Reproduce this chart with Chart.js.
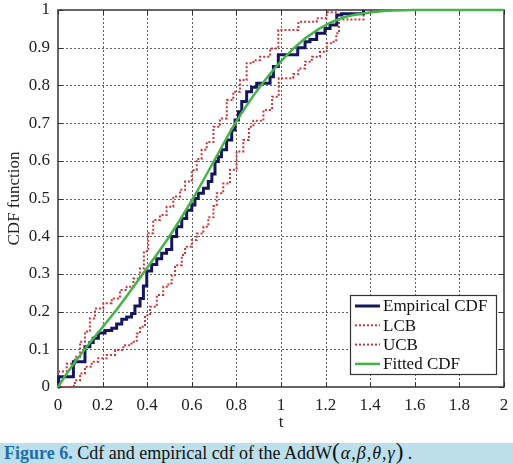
<!DOCTYPE html>
<html>
<head>
<meta charset="utf-8">
<script src="https://cdn.jsdelivr.net/npm/chart.js@4.4.1/dist/chart.umd.min.js"></script>
<style>
    body { margin: 0; background: #fff; }
    #wrap { position: relative; width: 513px; height: 443px; }
    #caption {
        width: 509px; height: 21px; line-height: 21px; padding-left: 4px;
        background: #bcdfeb; font-family: "Liberation Serif", serif; font-size: 18px; color: #111;
        white-space: nowrap;
    }
    #caption b { color: #1f6ea6; }
    #caption .par { font-size: 23px; line-height: 18px; }
    #caption i { padding: 0 1px; }
</style>
</head>
<body>
<div id="wrap"><canvas id="cdfChart" width="513" height="443"></canvas></div>
<div id="caption"><b>Figure 6.</b> Cdf and empirical cdf of the AddW<span class="par">(</span><i>α</i>,<i>β</i>,<i>θ</i>,<i>γ</i><span class="par">)</span> .</div>
<script>
// empirical cdf (jump points / value after jump)
var ecdfT = [0, 0.003, 0.069, 0.121, 0.143, 0.158, 0.181, 0.211, 0.241, 0.263, 0.286, 0.308, 0.33, 0.345, 0.368, 0.383, 0.398, 0.42, 0.443, 0.465, 0.487, 0.51, 0.532, 0.555, 0.577, 0.6, 0.614, 0.629, 0.652, 0.674, 0.69, 0.704, 0.719, 0.733, 0.756, 0.779, 0.794, 0.809, 0.824, 0.846, 0.868, 0.891, 0.951, 0.966, 0.988, 1.075, 1.108, 1.13, 1.16, 1.197, 1.22, 1.25, 1.272, 1.37];
var ecdfF = [0, 0.027, 0.067, 0.107, 0.118, 0.129, 0.143, 0.15, 0.156, 0.167, 0.18, 0.186, 0.195, 0.215, 0.235, 0.268, 0.308, 0.325, 0.34, 0.355, 0.365, 0.399, 0.425, 0.447, 0.469, 0.483, 0.5, 0.514, 0.527, 0.545, 0.565, 0.598, 0.611, 0.629, 0.655, 0.682, 0.708, 0.73, 0.757, 0.783, 0.795, 0.806, 0.823, 0.85, 0.881, 0.9, 0.916, 0.922, 0.938, 0.951, 0.96, 0.987, 0.99, 1];

// lower band
var lcbT = [0, 0.06, 0.076, 0.099, 0.121, 0.151, 0.181, 0.218, 0.256, 0.293, 0.33, 0.353, 0.368, 0.39, 0.413, 0.443, 0.472, 0.495, 0.51, 0.525, 0.555, 0.57, 0.6, 0.622, 0.652, 0.674, 0.697, 0.712, 0.741, 0.771, 0.801, 0.831, 0.856, 0.876, 0.921, 0.96, 0.99, 1.055, 1.078, 1.108, 1.138, 1.175, 1.205, 1.236, 1.248, 1.26, 1.37];
var lcbF = [0, 0.003, 0.018, 0.036, 0.054, 0.067, 0.076, 0.085, 0.098, 0.111, 0.12, 0.142, 0.16, 0.19, 0.213, 0.244, 0.266, 0.275, 0.297, 0.323, 0.35, 0.372, 0.39, 0.407, 0.425, 0.45, 0.48, 0.514, 0.54, 0.576, 0.625, 0.655, 0.69, 0.706, 0.735, 0.77, 0.819, 0.83, 0.845, 0.863, 0.876, 0.889, 0.912, 0.92, 0.938, 0.975, 1];

// upper band
var ucbT = [0, 0.039, 0.076, 0.099, 0.121, 0.143, 0.166, 0.203, 0.241, 0.278, 0.308, 0.338, 0.368, 0.385, 0.405, 0.427, 0.457, 0.487, 0.517, 0.547, 0.57, 0.6, 0.622, 0.644, 0.667, 0.697, 0.726, 0.757, 0.786, 0.816, 0.846, 0.876, 0.906, 0.951, 0.988, 1.078, 1.16, 1.205, 1.25];
var ucbF = [0.041, 0.062, 0.08, 0.12, 0.147, 0.182, 0.208, 0.222, 0.235, 0.257, 0.266, 0.288, 0.315, 0.36, 0.408, 0.443, 0.456, 0.478, 0.505, 0.523, 0.545, 0.575, 0.605, 0.629, 0.65, 0.69, 0.712, 0.761, 0.783, 0.814, 0.859, 0.867, 0.876, 0.898, 0.947, 0.969, 0.978, 0.994, 1];

// fitted cdf
var fitT = [0, 0.05, 0.12, 0.256, 0.38, 0.5, 0.605, 0.7, 0.795, 0.91, 1.06, 1.17, 1.28, 1.42, 1.6, 1.8, 2];
var fitF = [0, 0.045, 0.1, 0.2, 0.3, 0.4, 0.5, 0.6, 0.7, 0.8, 0.9, 0.95, 0.98, 0.995, 1, 1, 1];

var xTickLabels = ['0', '0.2', '0.4', '0.6', '0.8', '1', '1.2', '1.4', '1.6', '1.8', '2'];
var yTickLabels = ['0', '0.1', '0.2', '0.3', '0.4', '0.5', '0.6', '0.7', '0.8', '0.9', '1'];

function pts(xs, ys) {
    var out = [];
    for (let i = 0; i < xs.length; i++) {
        out.push({ x: xs[i], y: ys[i] });
    }
    return out;
}

var serif = '"Liberation Serif", "Times New Roman", serif';

// grid, box and inward ticks like matlab + legend box
var framePlugin = {
    id: 'frame',
    beforeDatasetsDraw: function (chart) {
        var ctx = chart.ctx, a = chart.chartArea;
        var xs = chart.scales.x, ys = chart.scales.y;
        ctx.save();
        ctx.strokeStyle = '#606060';
        ctx.lineWidth = 1;
        ctx.setLineDash([2, 2]);
        xs.ticks.forEach(function (t) {
            var px = Math.round(xs.getPixelForValue(t.value)) + 0.5;
            if (px > a.left + 2 && px < a.right - 2) {
                ctx.beginPath(); ctx.moveTo(px, a.top); ctx.lineTo(px, a.bottom); ctx.stroke();
            }
        });
        ys.ticks.forEach(function (t) {
            var py = Math.round(ys.getPixelForValue(t.value)) + 0.5;
            if (py > a.top + 2 && py < a.bottom - 2) {
                ctx.beginPath(); ctx.moveTo(a.left, py); ctx.lineTo(a.right, py); ctx.stroke();
            }
        });
        ctx.setLineDash([]);
        ctx.strokeStyle = '#333';
        ctx.lineWidth = 1;
        xs.ticks.forEach(function (t) {
            var px = Math.round(xs.getPixelForValue(t.value)) + 0.5;
            ctx.beginPath(); ctx.moveTo(px, a.bottom); ctx.lineTo(px, a.bottom - 5); ctx.stroke();
            ctx.beginPath(); ctx.moveTo(px, a.top); ctx.lineTo(px, a.top + 5); ctx.stroke();
        });
        ys.ticks.forEach(function (t) {
            var py = Math.round(ys.getPixelForValue(t.value)) + 0.5;
            ctx.beginPath(); ctx.moveTo(a.left, py); ctx.lineTo(a.left + 5, py); ctx.stroke();
            ctx.beginPath(); ctx.moveTo(a.right, py); ctx.lineTo(a.right - 5, py); ctx.stroke();
        });
        ctx.lineWidth = 1.5;
        ctx.strokeRect(a.left, a.top, a.right - a.left, a.bottom - a.top);
        ctx.restore();
    },
    afterDraw: function (chart) {
        var ctx = chart.ctx;
        var bx = 350, by = 295, bw = 146, bh = 79;
        ctx.save();
        ctx.fillStyle = '#fff';
        ctx.fillRect(bx, by, bw, bh);
        ctx.strokeStyle = '#333';
        ctx.lineWidth = 1.2;
        ctx.strokeRect(bx + 0.5, by + 0.5, bw, bh);
        ctx.font = '17px ' + serif;
        ctx.textBaseline = 'middle';
        chart.data.datasets.forEach(function (ds, i) {
            var ry = by + 11 + i * 19.3;
            ctx.strokeStyle = ds.borderColor;
            ctx.lineWidth = ds.borderWidth;
            ctx.setLineDash(ds.borderDash || []);
            ctx.beginPath(); ctx.moveTo(bx + 5, ry); ctx.lineTo(bx + 30, ry); ctx.stroke();
            ctx.setLineDash([]);
            ctx.fillStyle = '#111';
            ctx.fillText(ds.label, bx + 33, ry + 1);
        });
        ctx.restore();
    }
};

new Chart(document.getElementById('cdfChart'), {
    type: 'line',
    data: {
        datasets: [{
            label: 'Empirical CDF',
            data: pts(ecdfT, ecdfF),
            borderColor: '#15165e',
            borderWidth: 3,
            stepped: 'before',
            order: 1
        }, {
            label: 'LCB',
            data: pts(lcbT, lcbF),
            borderColor: '#c9353c',
            borderWidth: 2,
            borderDash: [2, 2],
            stepped: 'before',
            order: 2
        }, {
            label: 'UCB',
            data: pts(ucbT, ucbF),
            borderColor: '#c9353c',
            borderWidth: 2,
            borderDash: [2, 2],
            stepped: 'before',
            order: 2
        }, {
            label: 'Fitted CDF',
            data: pts(fitT, fitF),
            borderColor: '#45b34a',
            borderWidth: 2.5,
            cubicInterpolationMode: 'monotone',
            order: 0
        }]
    },
    options: {
        responsive: false,
        animation: false,
        maintainAspectRatio: false,
        layout: { padding: { top: 10, right: 9, left: 0, bottom: 0 } },
        elements: { point: { radius: 0 }, line: { fill: false } },
        datasets: { line: { clip: 4 } },
        plugins: { legend: { display: false }, tooltip: { enabled: false } },
        scales: {
            x: {
                type: 'linear', min: 0, max: 2,
                ticks: {
                    stepSize: 0.2, padding: 8, color: '#222', maxRotation: 0, autoSkip: false,
                    font: { family: serif, size: 17 },
                    callback: function (v, i) { return xTickLabels[i]; }
                },
                grid: { display: false, drawTicks: false },
                border: { display: false },
                title: { display: true, text: 't', color: '#222', font: { family: serif, size: 17 }, padding: { top: 0, bottom: 10 } },
                afterFit: function (s) { s.height = 56; s.paddingLeft = 0; s.paddingRight = 0; }
            },
            y: {
                type: 'linear', min: 0, max: 1,
                ticks: {
                    stepSize: 0.1, padding: 8, color: '#222', autoSkip: false,
                    font: { family: serif, size: 17 },
                    callback: function (v, i) { return yTickLabels[i]; }
                },
                grid: { display: false, drawTicks: false },
                border: { display: false },
                title: { display: true, text: 'CDF function', color: '#222', font: { family: serif, size: 17 }, padding: { top: 4, bottom: 4 } },
                afterFit: function (s) { s.width = 58; s.paddingTop = 0; s.paddingBottom = 0; }
            }
        }
    },
    plugins: [framePlugin]
});
</script>
</body>
</html>
